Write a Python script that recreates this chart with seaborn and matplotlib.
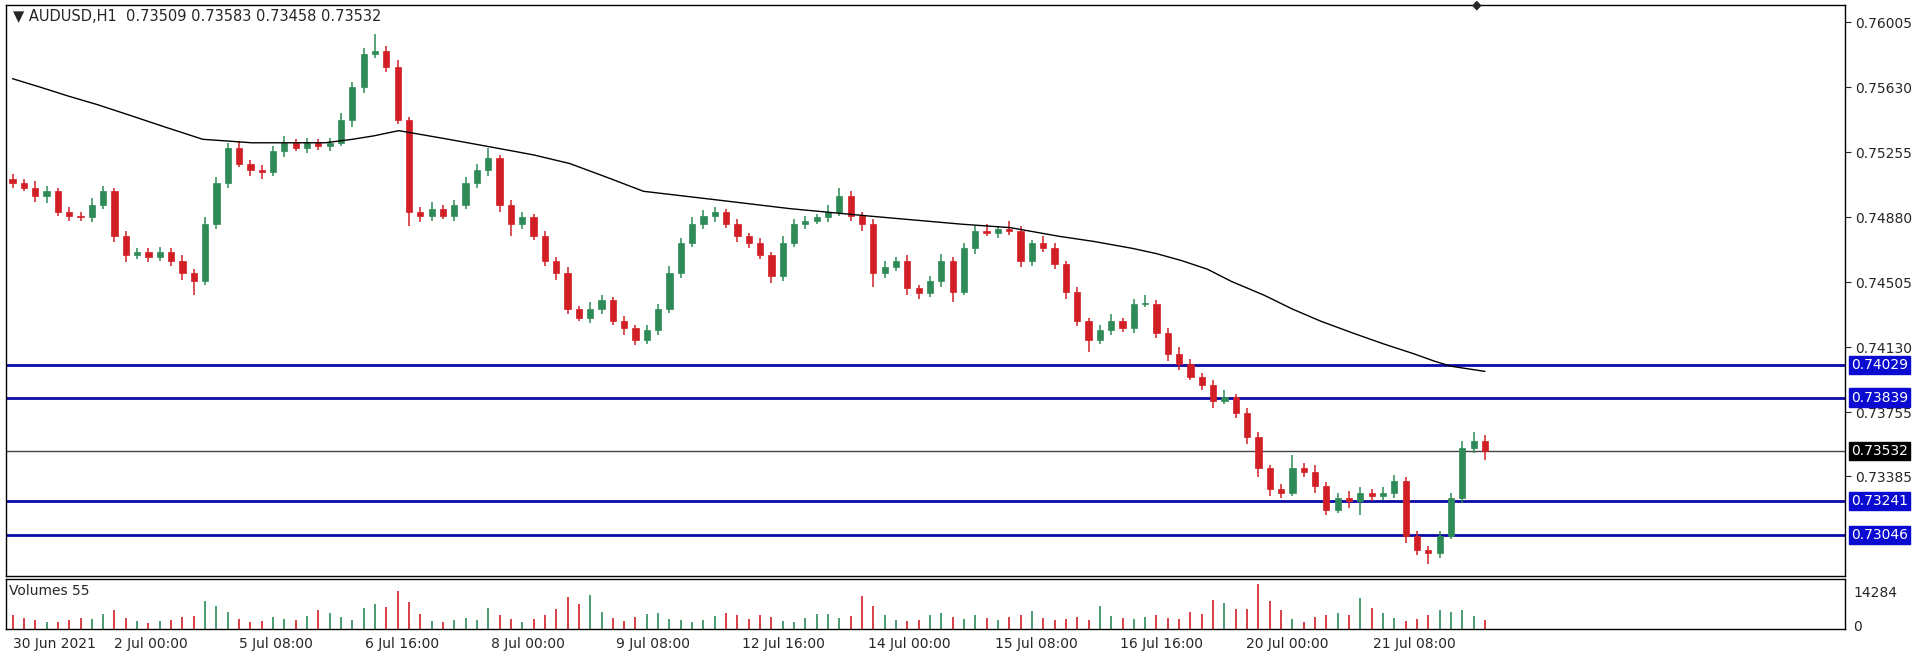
import numpy as np
import pandas as pd
import matplotlib
matplotlib.use("Agg")
import matplotlib.pyplot as plt
import seaborn as sns

# closes (approx. 3h steps)
closes = [0.7508, 0.7505, 0.7500, 0.7503, 0.7491, 0.7489, 0.7488, 0.7495, 0.7503, 0.7477,
          0.7466, 0.7468, 0.7465, 0.7468, 0.7463, 0.7456, 0.7451, 0.7484, 0.7508, 0.7528,
          0.7519, 0.7515, 0.7514, 0.7526, 0.7531, 0.7528, 0.7531, 0.7529, 0.7531, 0.7544,
          0.7563, 0.7582, 0.7584, 0.7575, 0.7544, 0.7491, 0.7489, 0.7493, 0.7489, 0.7495,
          0.7508, 0.7515, 0.7522, 0.7495, 0.7484, 0.7488, 0.7477, 0.7463, 0.7456, 0.7435,
          0.7430, 0.7435, 0.7440, 0.7428, 0.7424, 0.7417, 0.7423, 0.7435, 0.7456, 0.7473,
          0.7484, 0.7489, 0.7491, 0.7484, 0.7477, 0.7473, 0.7466, 0.7454, 0.7473, 0.7484,
          0.7486, 0.7488, 0.7491, 0.7500, 0.7489, 0.7484, 0.7456, 0.7459, 0.7463, 0.7447,
          0.7444, 0.7451, 0.7463, 0.7445, 0.7470, 0.7480, 0.7479, 0.7481, 0.7480, 0.7463,
          0.7473, 0.7470, 0.7461, 0.7445, 0.7428, 0.7417, 0.7423, 0.7428, 0.7424, 0.7438,
          0.7438, 0.7421, 0.7409, 0.7403, 0.7396, 0.7391, 0.7382, 0.7384, 0.7375, 0.7361,
          0.7343, 0.7331, 0.7329, 0.7343, 0.7341, 0.7333, 0.7319, 0.7326, 0.7324, 0.7329,
          0.7327, 0.7329, 0.7336, 0.7304, 0.7296, 0.7294, 0.7304, 0.7326, 0.7355, 0.7359,
          0.7353]
first_open = 0.7510

# wick sizes in pips
wick_up = [3, 2, 4, 3, 2, 3, 2, 4, 3, 2, 3, 2, 2, 3, 2, 3, 2, 4, 3, 3,
           4, 2, 3, 3, 4, 2, 3, 2, 3, 4, 3, 4, 10, 3, 4, 2, 3, 4, 2, 3,
           3, 4, 6, 2, 3, 3, 2, 3, 2, 3, 2, 4, 3, 2, 3, 2, 3, 3, 4, 3,
           4, 3, 3, 2, 3, 2, 3, 2, 4, 3, 3, 2, 4, 5, 3, 2, 3, 4, 2, 3,
           2, 3, 4, 2, 3, 3, 4, 2, 5, 3, 2, 4, 3, 2, 3, 2, 3, 4, 2, 3,
           5, 2, 3, 4, 3, 2, 3, 4, 2, 3, 3, 2, 3, 8, 3, 4, 2, 3, 4, 3,
           2, 3, 3, 2, 3, 2, 3, 3, 4, 5, 3]
wick_dn = [3, 2, 3, 4, 2, 3, 2, 3, 2, 3, 4, 2, 3, 2, 3, 4, 8, 2, 3, 3,
           2, 3, 4, 2, 3, 2, 3, 2, 3, 2, 4, 3, 2, 3, 2, 8, 4, 3, 2, 3,
           2, 3, 3, 4, 7, 3, 2, 3, 4, 3, 2, 3, 3, 2, 4, 3, 2, 3, 2, 3,
           2, 3, 4, 2, 3, 3, 2, 4, 3, 2, 3, 2, 3, 2, 3, 4, 8, 3, 2, 4,
           3, 2, 3, 6, 2, 3, 2, 3, 2, 4, 3, 2, 3, 4, 3, 7, 2, 3, 2, 3,
           2, 3, 4, 3, 2, 3, 4, 2, 3, 4, 5, 4, 3, 2, 3, 4, 3, 2, 4, 8,
           3, 2, 3, 4, 3, 6, 3, 2, 3, 3, 5]

volumes = [5200, 4100, 3300, 2800, 2600, 3600, 4200, 3900, 5600, 7400,
           4300, 3100, 2500, 2900, 3400, 4800, 5100, 10600, 8900, 6500,
           3800, 2600, 3100, 4600, 3900, 3300, 5100, 7300, 6200, 4800,
           3500, 7900, 9400, 8600, 14500, 10200, 5600, 3100, 2700, 3400,
           4400, 3600, 8200, 5300, 3900, 2600, 3800, 5200, 7800, 12400,
           9600, 13100, 6400, 4200, 3100, 4800, 5600, 6300, 3900, 3500,
           2800, 3300, 4900, 6200, 5400, 3800, 5500, 4700, 3200, 2700,
           4100, 5800, 5600, 4200, 5100, 12500, 8700, 5300, 3600, 2900,
           3400, 5200, 6100, 4700, 3800, 5500, 4200, 3600, 4800, 5300,
           6800, 4100, 3300, 3900, 4500, 3500, 8700, 5100, 4200, 3900,
           4700, 5200, 4100, 3700, 6400, 5900, 11200, 9800, 7800, 7600,
           17300, 10600, 7100, 3900, 2600, 4800, 5500, 6100, 5200, 11800,
           8200, 6300, 4100, 3100, 3900, 5200, 7100, 6600, 7400, 5100,
           3300]

# 200-period moving average, sampled at a few bar indexes
ma_idx = [0, 2.5, 4.9, 7.5, 10.3, 13.5, 16.8, 19, 21.1, 24.5, 27.6, 30, 31.9, 34.1,
          38.5, 42.7, 46, 49.2, 52.5, 55.7, 62.2, 68.6, 75.1, 83.8, 88.1, 92.4,
          95.5, 98.9, 101, 103.2, 105.5, 107.6, 110.5, 113, 115.5, 118.4, 121, 123.8,
          125.5, 127, 130]
ma_val = [0.7568, 0.7563, 0.7558, 0.7553, 0.7547, 0.7540, 0.7533, 0.7532, 0.7531,
          0.7531, 0.7531, 0.7533, 0.7535, 0.7538, 0.7533, 0.7528, 0.7524, 0.7519,
          0.7511, 0.7503, 0.7498, 0.7493, 0.7489, 0.7484, 0.7482, 0.7477, 0.7474,
          0.7470, 0.7467, 0.7463, 0.7458, 0.7451, 0.7443, 0.7435, 0.7428, 0.7421,
          0.7415, 0.7409, 0.7405, 0.7402, 0.7399]

levels = [0.74029, 0.73839, 0.73241, 0.73046]
last_price = 0.73532
price_ticks = [0.76005, 0.75630, 0.75255, 0.74880, 0.74505, 0.74130, 0.73755, 0.73385]
date_pos = [0, 9.0, 20.0, 31.1, 42.2, 53.3, 64.4, 75.5, 86.7, 97.8, 108.9, 120.1]
date_labels = ["30 Jun 2021", "2 Jul 00:00", "5 Jul 08:00", "6 Jul 16:00", "8 Jul 00:00",
               "9 Jul 08:00", "12 Jul 16:00", "14 Jul 00:00", "15 Jul 08:00",
               "16 Jul 16:00", "20 Jul 00:00", "21 Jul 08:00"]

df = pd.DataFrame({"close": closes, "vol": volumes,
                   "up": wick_up, "dn": wick_dn})
df["open"] = [first_open] + closes[:-1]
df["high"] = df[["open", "close"]].max(axis=1) + df["up"] * 0.0001
df["low"] = df[["open", "close"]].min(axis=1) - df["dn"] * 0.0001
df["idx"] = range(len(df))
bull = df["close"] >= df["open"]
green, red = "#2e8b57", "#d21f26"
df["col"] = np.where(bull, green, red)

sns.set_style("white")
plt.rcParams["font.family"] = ["DejaVu Sans"]
fig = plt.figure(figsize=(19.2, 6.56), dpi=100)
ax = fig.add_axes([0.003, 0.122, 0.958, 0.870])
axv = fig.add_axes([0.003, 0.041, 0.958, 0.076], sharex=ax)

# candles
ax.vlines(df["idx"], df["low"], df["high"], colors=df["col"], lw=1.1, zorder=3)
ax.bar(df["idx"], (df["close"] - df["open"]).abs().clip(lower=0.00003),
       bottom=df[["open", "close"]].min(axis=1), width=0.55,
       color=df["col"], edgecolor=df["col"], lw=0.5, zorder=4)
sns.lineplot(x=ma_idx, y=ma_val, ax=ax, color="black", lw=1, zorder=5)

for lv in levels:
    ax.axhline(lv, color="#0a0aa8", lw=2, zorder=2)
ax.axhline(last_price, color="#444444", lw=1, zorder=2)

ax.set_xlim(-0.6, 161.8)
ax.set_ylim(0.72809, 0.76104)
ax.yaxis.tick_right()
ax.set_yticks(price_ticks)
ax.set_yticklabels([f"{t:.5f}" for t in price_ticks], fontsize=10)
ax.tick_params(axis="y", length=4, direction="out", pad=3)
ax.tick_params(axis="x", bottom=False, labelbottom=False)
for lv in levels:
    ax.annotate(f"{lv:.5f}", xy=(1.0, lv), xycoords=("axes fraction", "data"),
                xytext=(4, 0), textcoords="offset points", va="center", ha="left",
                fontsize=10, color="white",
                bbox=dict(boxstyle="square,pad=0.15", fc="#0a0ad0", ec="#0a0ad0"))
ax.annotate(f"{last_price:.5f}", xy=(1.0, last_price), xycoords=("axes fraction", "data"),
            xytext=(4, 0), textcoords="offset points", va="center", ha="left",
            fontsize=10, color="white",
            bbox=dict(boxstyle="square,pad=0.15", fc="black", ec="black"))
ax.text(0.004, 0.993, "\u25bc AUDUSD,H1  0.73509 0.73583 0.73458 0.73532",
        transform=ax.transAxes, va="top", ha="left", fontsize=10.5)
ax.text(0.8, 1.0, "\u25c6", transform=ax.transAxes, va="center", ha="center", fontsize=9)
for s in ax.spines.values():
    s.set_color("black")
    s.set_linewidth(1)

# volumes
axv.vlines(df["idx"], 0, df["vol"], colors=df["col"], lw=1.2)
axv.set_ylim(0, 19000)
axv.yaxis.tick_right()
axv.set_yticks([1500, 14284])
axv.set_yticklabels(["0", "14284"], fontsize=10)
axv.tick_params(axis="y", length=0, pad=6)
axv.set_xticks(date_pos)
axv.set_xticklabels(date_labels, fontsize=10, ha="left")
axv.tick_params(axis="x", length=4, direction="out", pad=2)
axv.text(0.002, 0.9, "Volumes 55", transform=axv.transAxes, va="top", ha="left", fontsize=10)
for s in axv.spines.values():
    s.set_color("black")
    s.set_linewidth(1)

fig.savefig("out.png", dpi=100)
